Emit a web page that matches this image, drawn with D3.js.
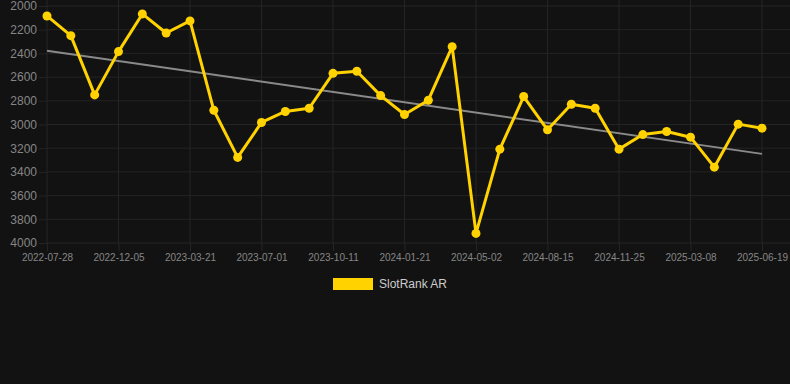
<!DOCTYPE html>
<html>
<head>
<meta charset="utf-8">
<script src="https://cdn.jsdelivr.net/npm/d3@7"></script>
<style>
  html, body { margin: 0; padding: 0; background: #121212; }
  svg { display: block; }
  .tick text { font-family: "Helvetica Neue", Helvetica, Arial, sans-serif; }
</style>
</head>
<body>
<div id="chart"></div>
<script>
  // Category dates (only every third one is labelled on the axis)
  var dates = [
    "2022-07-28", "2022-09-09", "2022-10-22", "2022-12-05", "2023-01-09", "2023-02-13",
    "2023-03-21", "2023-04-24", "2023-05-28", "2023-07-01", "2023-08-04", "2023-09-07",
    "2023-10-11", "2023-11-14", "2023-12-18", "2024-01-21", "2024-02-24", "2024-03-29",
    "2024-05-02", "2024-06-06", "2024-07-11", "2024-08-15", "2024-09-18", "2024-10-22",
    "2024-11-25", "2024-12-29", "2025-02-01", "2025-03-08", "2025-04-11", "2025-05-15",
    "2025-06-19"
  ];

  // SlotRank AR values
  var rankValues = [
    2084, 2250, 2750, 2385, 2067, 2228, 2126, 2880, 3278, 2983, 2890,
    2863, 2568, 2551, 2756, 2916, 2795, 2343, 3919, 3208, 2764, 3045,
    2829, 2863, 3208, 3085, 3059, 3107, 3360, 2997, 3031
  ];

  var yTicks = [2000, 2200, 2400, 2600, 2800, 3000, 3200, 3400, 3600, 3800, 4000];
  var seriesName = "SlotRank AR";

  (function () {
    "use strict";

    // Layout
    var W = 790, H = 384;
    var plotLeft = 47, plotRight = 762, plotTop = 6, plotBottom = 243;
    var tickLen = 8;
    var gridColor = "#242424";
    var labelColor = "#868686";
    var lineColor = "#ffd200";

    var svg = d3.select("#chart").append("svg")
      .attr("width", W)
      .attr("height", H);

    svg.append("rect")
      .attr("width", W)
      .attr("height", H)
      .attr("fill", "#121212");

    var x = d3.scalePoint().domain(dates).range([plotLeft, plotRight]);
    var y = d3.scaleLinear().domain([2000, 4000]).range([plotTop, plotBottom]);

    var xTicks = dates.filter(function (d, i) { return i % 3 === 0; });

    // Grid
    svg.append("g")
      .selectAll("line")
      .data(yTicks)
      .enter()
      .append("line")
      .attr("x1", plotLeft).attr("x2", W)
      .attr("y1", function (d) { return y(d); })
      .attr("y2", function (d) { return y(d); })
      .attr("stroke", gridColor)
      .attr("stroke-width", 1);

    svg.append("g")
      .selectAll("line")
      .data(xTicks)
      .enter()
      .append("line")
      .attr("x1", function (d) { return x(d); })
      .attr("x2", function (d) { return x(d); })
      .attr("y1", 0).attr("y2", plotBottom)
      .attr("stroke", gridColor)
      .attr("stroke-width", 1);

    // Axes
    var yAxis = svg.append("g")
      .attr("transform", "translate(" + plotLeft + ",0)")
      .call(d3.axisLeft(y).tickValues(yTicks).tickSize(tickLen).tickPadding(2).tickFormat(d3.format("d")));
    yAxis.select(".domain").remove();
    yAxis.selectAll(".tick line").attr("stroke", gridColor);
    yAxis.selectAll(".tick text").attr("fill", labelColor).attr("font-size", 12);

    var xAxis = svg.append("g")
      .attr("transform", "translate(0," + plotBottom + ")")
      .call(d3.axisBottom(x).tickValues(xTicks).tickSize(tickLen).tickPadding(3));
    xAxis.select(".domain").remove();
    xAxis.selectAll(".tick line").attr("stroke", gridColor);
    xAxis.selectAll(".tick text").attr("fill", labelColor).attr("font-size", 10);

    // Linear trend (least squares over the series)
    var n = rankValues.length;
    var meanI = (n - 1) / 2;
    var meanV = d3.mean(rankValues);
    var num = 0, den = 0;
    rankValues.forEach(function (v, i) {
      num += (i - meanI) * (v - meanV);
      den += (i - meanI) * (i - meanI);
    });
    var slope = num / den;
    var trend = [0, n - 1].map(function (i) {
      return { d: dates[i], v: meanV + slope * (i - meanI) };
    });

    svg.append("path")
      .datum(trend)
      .attr("fill", "none")
      .attr("stroke", "#8a8a8a")
      .attr("stroke-width", 2)
      .attr("d", d3.line()
        .x(function (p) { return x(p.d); })
        .y(function (p) { return y(p.v); }));

    // Series line
    var points = rankValues.map(function (v, i) { return { d: dates[i], v: v }; });

    svg.append("path")
      .datum(points)
      .attr("fill", "none")
      .attr("stroke", lineColor)
      .attr("stroke-width", 3)
      .attr("stroke-linejoin", "round")
      .attr("d", d3.line()
        .x(function (p) { return x(p.d); })
        .y(function (p) { return y(p.v); }));

    svg.append("g")
      .selectAll("circle")
      .data(points)
      .enter()
      .append("circle")
      .attr("cx", function (p) { return x(p.d); })
      .attr("cy", function (p) { return y(p.v); })
      .attr("r", 4.5)
      .attr("fill", lineColor);

    // Legend
    var legend = svg.append("g").attr("transform", "translate(333,278)");
    legend.append("rect")
      .attr("width", 40)
      .attr("height", 12)
      .attr("fill", lineColor);
    legend.append("text")
      .attr("x", 46)
      .attr("y", 6)
      .attr("dy", "0.35em")
      .attr("fill", "#cccccc")
      .attr("font-size", 12)
      .attr("font-family", "\"Helvetica Neue\", Helvetica, Arial, sans-serif")
      .text(seriesName);
  })();
</script>
</body>
</html>
